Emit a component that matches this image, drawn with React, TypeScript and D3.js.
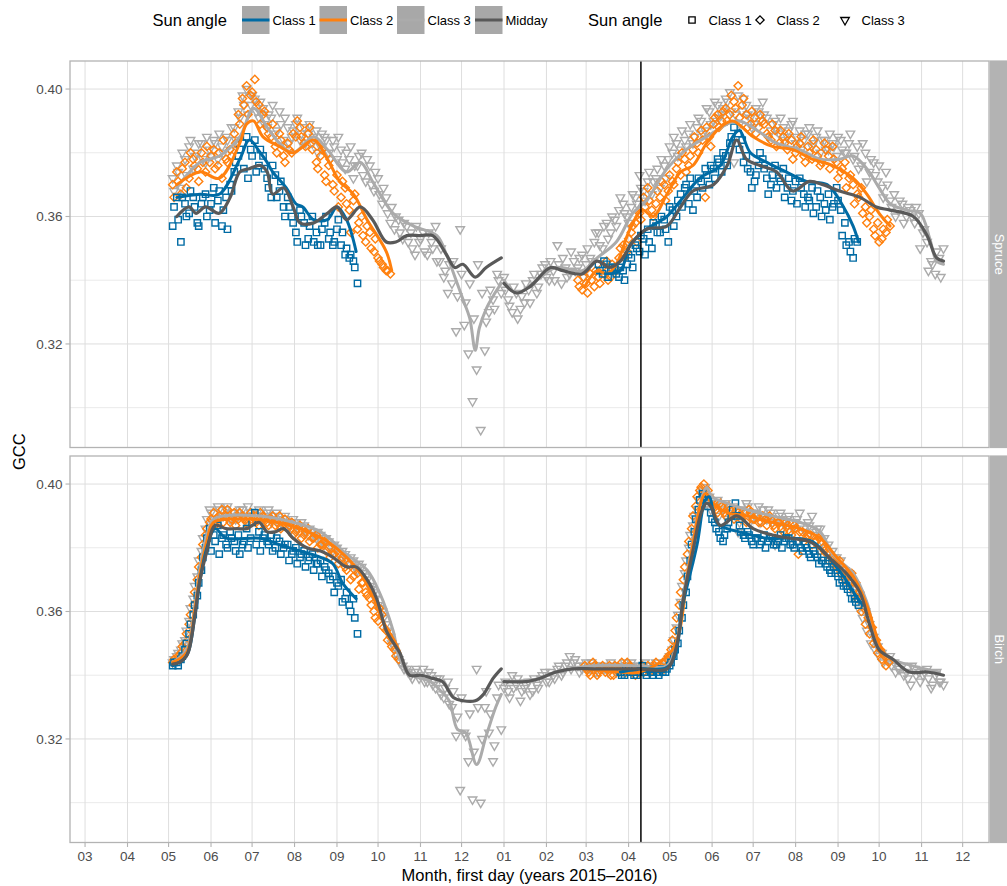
import * as d3 from 'd3';
import React, { useEffect, useRef } from 'react';

type Run = { start: string; step: number; gcc: number[] };
type Knot = [string, number];

// ---- points: GCC, one value every `step` days from `start`
// (two interleaved runs per class and year, the picture has several images a day)
const spruceClass1_2015: Run = { start: '2015-05-04', step: 3, gcc: [
  0.357, 0.366, 0.352, 0.364, 0.361, 0.366, 0.358, 0.364, 0.367, 0.362,
  0.369, 0.365, 0.357, 0.366, 0.370, 0.374, 0.379, 0.383, 0.385, 0.381,
  0.384, 0.376, 0.379, 0.372, 0.366, 0.373, 0.368, 0.363, 0.366, 0.360,
  0.355, 0.362, 0.358, 0.353, 0.360, 0.355, 0.351, 0.358, 0.353, 0.351,
  0.356, 0.351, 0.348, 0.347, 0.346, 0.339] };
const spruceClass1_2015b: Run = { start: '2015-05-05', step: 3, gcc: [
  0.363, 0.359, 0.366, 0.360, 0.368, 0.363, 0.357, 0.366, 0.360, 0.364,
  0.358, 0.368, 0.362, 0.356, 0.368, 0.377, 0.381, 0.375, 0.372, 0.379,
  0.374, 0.381, 0.375, 0.369, 0.376, 0.366, 0.371, 0.360, 0.363, 0.358,
  0.352, 0.360, 0.351, 0.357, 0.352, 0.351, 0.356, 0.360, 0.355, 0.352,
  0.359, 0.355, 0.350, 0.348, 0.344] };
const spruceClass1_2016: Run = { start: '2016-03-10', step: 3, gcc: [
  0.345, 0.342, 0.345, 0.343, 0.344, 0.341, 0.343, 0.345, 0.347, 0.351,
  0.349, 0.353, 0.356, 0.350, 0.357, 0.355, 0.359, 0.352, 0.362, 0.360,
  0.367, 0.369, 0.364, 0.362, 0.366, 0.371, 0.375, 0.370, 0.375, 0.378,
  0.374, 0.379, 0.383, 0.388, 0.386, 0.384, 0.379, 0.374, 0.371, 0.376,
  0.378, 0.372, 0.370, 0.376, 0.372, 0.375, 0.369, 0.365, 0.371, 0.372,
  0.367, 0.366, 0.369, 0.363, 0.366, 0.364, 0.367, 0.363, 0.369, 0.362,
  0.358, 0.352, 0.347, 0.352] };
const spruceClass1_2016b: Run = { start: '2016-03-11', step: 3, gcc: [
  0.343, 0.346, 0.341, 0.344, 0.342, 0.344, 0.340, 0.348, 0.344, 0.350,
  0.354, 0.348, 0.352, 0.358, 0.355, 0.360, 0.356, 0.363, 0.357, 0.365,
  0.363, 0.370, 0.372, 0.368, 0.372, 0.369, 0.373, 0.376, 0.372, 0.377,
  0.380, 0.376, 0.385, 0.383, 0.381, 0.377, 0.375, 0.369, 0.373, 0.380,
  0.375, 0.367, 0.373, 0.369, 0.371, 0.366, 0.372, 0.368, 0.364, 0.369,
  0.363, 0.365, 0.361, 0.368, 0.360, 0.362, 0.359, 0.364, 0.365, 0.354,
  0.351, 0.349, 0.353] };
const spruceClass2_2015: Run = { start: '2015-05-04', step: 3, gcc: [
  0.370, 0.374, 0.367, 0.377, 0.372, 0.378, 0.375, 0.380, 0.374, 0.377,
  0.381, 0.376, 0.372, 0.378, 0.381, 0.386, 0.392, 0.397, 0.401, 0.398,
  0.403, 0.395, 0.392, 0.388, 0.385, 0.382, 0.386, 0.379, 0.383, 0.380,
  0.385, 0.388, 0.383, 0.386, 0.381, 0.377, 0.379, 0.373, 0.376, 0.370,
  0.373, 0.366, 0.369, 0.362, 0.365, 0.356, 0.360, 0.352, 0.355, 0.349,
  0.347, 0.345, 0.343, 0.342] };
const spruceClass2_2015b: Run = { start: '2015-05-05', step: 3, gcc: [
  0.366, 0.371, 0.375, 0.369, 0.380, 0.376, 0.371, 0.377, 0.382, 0.379,
  0.375, 0.380, 0.384, 0.377, 0.379, 0.383, 0.389, 0.395, 0.392, 0.399,
  0.396, 0.389, 0.393, 0.386, 0.389, 0.380, 0.384, 0.377, 0.381, 0.386,
  0.390, 0.385, 0.382, 0.388, 0.384, 0.375, 0.381, 0.371, 0.378, 0.368,
  0.363, 0.371, 0.364, 0.355, 0.367, 0.358, 0.354, 0.357, 0.350, 0.353,
  0.346, 0.344, 0.343] };
const spruceClass2_2016: Run = { start: '2016-02-24', step: 3, gcc: [
  0.340, 0.337, 0.339, 0.342, 0.338, 0.341, 0.344, 0.346, 0.341, 0.344,
  0.347, 0.351, 0.349, 0.355, 0.358, 0.361, 0.366, 0.369, 0.362, 0.364,
  0.366, 0.370, 0.368, 0.371, 0.375, 0.373, 0.378, 0.376, 0.381, 0.383,
  0.387, 0.366, 0.385, 0.389, 0.392, 0.390, 0.394, 0.392, 0.396, 0.401,
  0.395, 0.392, 0.389, 0.391, 0.388, 0.390, 0.386, 0.384, 0.387, 0.383,
  0.385, 0.381, 0.384, 0.380, 0.383, 0.379, 0.382, 0.378, 0.381, 0.376,
  0.383, 0.379, 0.382, 0.377, 0.374, 0.377, 0.372, 0.370, 0.367, 0.369,
  0.363, 0.360, 0.356, 0.358, 0.353, 0.355, 0.357] };
const spruceClass2_2016b: Run = { start: '2016-02-25', step: 3, gcc: [
  0.338, 0.341, 0.336, 0.340, 0.343, 0.339, 0.342, 0.340, 0.345, 0.343,
  0.350, 0.347, 0.353, 0.357, 0.352, 0.359, 0.363, 0.365, 0.360, 0.368,
  0.371, 0.365, 0.373, 0.370, 0.377, 0.380, 0.374, 0.379, 0.385, 0.380,
  0.384, 0.388, 0.382, 0.391, 0.388, 0.393, 0.390, 0.398, 0.394, 0.391,
  0.397, 0.388, 0.393, 0.386, 0.392, 0.389, 0.385, 0.389, 0.382, 0.387,
  0.383, 0.386, 0.378, 0.382, 0.385, 0.377, 0.380, 0.384, 0.379, 0.377,
  0.381, 0.375, 0.378, 0.372, 0.375, 0.369, 0.373, 0.364, 0.366, 0.361,
  0.358, 0.362, 0.354, 0.352, 0.356, 0.359] };
const spruceClass3_2015: Run = { start: '2015-05-04', step: 3, gcc: [
  0.372, 0.376, 0.369, 0.378, 0.382, 0.375, 0.380, 0.383, 0.377, 0.381,
  0.384, 0.378, 0.382, 0.385, 0.381, 0.388, 0.393, 0.398, 0.400, 0.395,
  0.397, 0.391, 0.394, 0.388, 0.391, 0.386, 0.393, 0.384, 0.388, 0.385,
  0.389, 0.384, 0.388, 0.386, 0.383, 0.387, 0.382, 0.385, 0.380, 0.384,
  0.378, 0.381, 0.375, 0.378, 0.372, 0.376, 0.380, 0.371, 0.376, 0.368,
  0.372, 0.364, 0.366, 0.358, 0.356, 0.359, 0.353, 0.357, 0.355, 0.348,
  0.352, 0.355, 0.348, 0.352, 0.357, 0.346, 0.341, 0.336, 0.339, 0.324,
  0.356, 0.326, 0.317, 0.302, 0.312, 0.293, 0.318, 0.330, 0.334, 0.342,
  0.336] };
const spruceClass3_2015b: Run = { start: '2015-05-05', step: 3, gcc: [
  0.368, 0.374, 0.380, 0.373, 0.384, 0.379, 0.383, 0.378, 0.385, 0.379,
  0.383, 0.386, 0.380, 0.384, 0.388, 0.384, 0.391, 0.395, 0.392, 0.398,
  0.393, 0.396, 0.389, 0.392, 0.395, 0.387, 0.389, 0.391, 0.383, 0.387,
  0.391, 0.386, 0.383, 0.389, 0.385, 0.380, 0.386, 0.384, 0.378, 0.382,
  0.385, 0.377, 0.380, 0.382, 0.376, 0.379, 0.373, 0.378, 0.370, 0.374,
  0.367, 0.369, 0.361, 0.363, 0.360, 0.355, 0.358, 0.352, 0.350, 0.357,
  0.353, 0.349, 0.355, 0.350, 0.346, 0.350, 0.343, 0.345, 0.346, 0.335,
  0.342, 0.333, 0.339, 0.328, 0.345, 0.336, 0.327, 0.337, 0.331, 0.340] };
const spruceClass3_2016: Run = { start: '2016-01-01', step: 3, gcc: [
  0.341, 0.334, 0.330, 0.336, 0.331, 0.333, 0.337, 0.340, 0.336, 0.342,
  0.345, 0.340, 0.343, 0.351, 0.339, 0.344, 0.342, 0.346, 0.344, 0.348,
  0.345, 0.347, 0.352, 0.355, 0.350, 0.358, 0.355, 0.359, 0.362, 0.364,
  0.360, 0.363, 0.366, 0.373, 0.368, 0.371, 0.367, 0.372, 0.369, 0.376,
  0.378, 0.380, 0.383, 0.381, 0.384, 0.386, 0.383, 0.388, 0.390, 0.387,
  0.393, 0.390, 0.395, 0.392, 0.397, 0.399, 0.377, 0.398, 0.393, 0.395,
  0.391, 0.389, 0.393, 0.396, 0.391, 0.387, 0.390, 0.386, 0.388, 0.385,
  0.389, 0.383, 0.387, 0.384, 0.386, 0.382, 0.385, 0.380, 0.384, 0.381,
  0.383, 0.379, 0.384, 0.380, 0.383, 0.378, 0.382, 0.376, 0.380, 0.374,
  0.377, 0.371, 0.369, 0.374, 0.365, 0.367, 0.362, 0.364, 0.360, 0.362,
  0.358, 0.361, 0.355, 0.352, 0.346, 0.342, 0.347, 0.350] };
const spruceClass3_2016b: Run = { start: '2016-01-02', step: 3, gcc: [
  0.337, 0.332, 0.338, 0.328, 0.335, 0.339, 0.333, 0.342, 0.338, 0.344,
  0.341, 0.346, 0.340, 0.345, 0.347, 0.341, 0.349, 0.343, 0.347, 0.341,
  0.350, 0.346, 0.355, 0.351, 0.357, 0.353, 0.360, 0.357, 0.366, 0.361,
  0.358, 0.367, 0.364, 0.369, 0.365, 0.374, 0.371, 0.375, 0.378, 0.372,
  0.382, 0.385, 0.379, 0.387, 0.382, 0.389, 0.385, 0.391, 0.386, 0.394,
  0.389, 0.396, 0.391, 0.394, 0.396, 0.393, 0.392, 0.389, 0.397, 0.392,
  0.388, 0.394, 0.390, 0.392, 0.385, 0.389, 0.387, 0.391, 0.384, 0.387,
  0.390, 0.385, 0.381, 0.386, 0.388, 0.383, 0.387, 0.384, 0.381, 0.386,
  0.382, 0.385, 0.381, 0.380, 0.386, 0.379, 0.375, 0.383, 0.371, 0.378,
  0.373, 0.376, 0.366, 0.370, 0.363, 0.360, 0.365, 0.358, 0.363, 0.360,
  0.363, 0.350, 0.356, 0.343, 0.345, 0.349, 0.341] };

const birchClass1_2015: Run = { start: '2015-05-04', step: 3, gcc: [
  0.343, 0.344, 0.345, 0.348, 0.353, 0.359, 0.365, 0.373, 0.380, 0.386,
  0.384, 0.387, 0.383, 0.381, 0.385, 0.382, 0.384, 0.381, 0.386, 0.383,
  0.391, 0.385, 0.383, 0.382, 0.384, 0.380, 0.382, 0.380, 0.381, 0.378,
  0.380, 0.377, 0.379, 0.376, 0.378, 0.375, 0.376, 0.374, 0.372, 0.371,
  0.369, 0.370, 0.364, 0.362, 0.364, 0.353] };
const birchClass1_2015b: Run = { start: '2015-05-05', step: 3, gcc: [
  0.344, 0.343, 0.346, 0.350, 0.356, 0.362, 0.369, 0.377, 0.383, 0.379,
  0.382, 0.378, 0.384, 0.380, 0.383, 0.379, 0.378, 0.382, 0.380, 0.388,
  0.381, 0.379, 0.384, 0.381, 0.379, 0.383, 0.378, 0.381, 0.376, 0.379,
  0.375, 0.378, 0.374, 0.377, 0.373, 0.375, 0.371, 0.373, 0.370, 0.366,
  0.368, 0.363, 0.366, 0.360, 0.358] };
const birchClass1_2016: Run = { start: '2016-03-26', step: 3, gcc: [
  0.341, 0.340, 0.342, 0.341, 0.340, 0.342, 0.341, 0.342, 0.340, 0.341,
  0.342, 0.341, 0.343, 0.346, 0.350, 0.358, 0.366, 0.376, 0.385, 0.392,
  0.397, 0.395, 0.391, 0.388, 0.385, 0.382, 0.386, 0.390, 0.394, 0.387,
  0.384, 0.385, 0.382, 0.383, 0.381, 0.384, 0.382, 0.383, 0.381, 0.384,
  0.382, 0.383, 0.381, 0.382, 0.380, 0.381, 0.378, 0.379, 0.377, 0.376,
  0.375, 0.373, 0.374, 0.371, 0.370, 0.368, 0.366, 0.364, 0.362] };
const birchClass1_2016b: Run = { start: '2016-03-27', step: 3, gcc: [
  0.340, 0.342, 0.341, 0.340, 0.341, 0.343, 0.340, 0.341, 0.342, 0.340,
  0.341, 0.342, 0.344, 0.348, 0.354, 0.362, 0.371, 0.381, 0.389, 0.395,
  0.396, 0.393, 0.389, 0.386, 0.383, 0.384, 0.388, 0.392, 0.390, 0.385,
  0.383, 0.384, 0.381, 0.383, 0.382, 0.380, 0.383, 0.381, 0.382, 0.380,
  0.383, 0.381, 0.380, 0.382, 0.379, 0.380, 0.377, 0.378, 0.375, 0.376,
  0.374, 0.372, 0.372, 0.369, 0.368, 0.367, 0.364, 0.363] };
const birchClass2_2015: Run = { start: '2015-05-04', step: 3, gcc: [
  0.344, 0.345, 0.347, 0.350, 0.356, 0.362, 0.370, 0.377, 0.384, 0.388,
  0.391, 0.389, 0.392, 0.390, 0.388, 0.391, 0.389, 0.390, 0.388, 0.391,
  0.389, 0.387, 0.390, 0.388, 0.389, 0.387, 0.390, 0.388, 0.386, 0.388,
  0.385, 0.387, 0.384, 0.386, 0.383, 0.384, 0.381, 0.382, 0.380, 0.378,
  0.379, 0.376, 0.374, 0.375, 0.371, 0.372, 0.369, 0.366, 0.364, 0.360,
  0.357, 0.359, 0.354, 0.352, 0.348, 0.345] };
const birchClass2_2015b: Run = { start: '2015-05-05', step: 3, gcc: [
  0.345, 0.346, 0.349, 0.353, 0.359, 0.366, 0.374, 0.381, 0.386, 0.389,
  0.387, 0.390, 0.388, 0.392, 0.389, 0.387, 0.391, 0.389, 0.387, 0.390,
  0.388, 0.391, 0.389, 0.387, 0.390, 0.388, 0.386, 0.389, 0.387, 0.384,
  0.386, 0.383, 0.385, 0.382, 0.383, 0.380, 0.381, 0.379, 0.377, 0.378,
  0.375, 0.377, 0.373, 0.370, 0.373, 0.367, 0.369, 0.365, 0.362, 0.358,
  0.361, 0.355, 0.351, 0.349, 0.346] };
const birchClass2_2016: Run = { start: '2016-02-29', step: 3, gcc: [
  0.343, 0.341, 0.344, 0.340, 0.342, 0.341, 0.343, 0.340, 0.342, 0.344,
  0.341, 0.343, 0.342, 0.341, 0.343, 0.342, 0.341, 0.343, 0.342, 0.344,
  0.345, 0.348, 0.354, 0.362, 0.370, 0.378, 0.386, 0.393, 0.398, 0.400,
  0.398, 0.395, 0.392, 0.394, 0.391, 0.393, 0.390, 0.392, 0.389, 0.391,
  0.392, 0.389, 0.390, 0.388, 0.389, 0.390, 0.387, 0.388, 0.386, 0.388,
  0.385, 0.387, 0.378, 0.385, 0.383, 0.384, 0.382, 0.383, 0.380, 0.378,
  0.377, 0.375, 0.376, 0.373, 0.371, 0.372, 0.369, 0.366, 0.361, 0.358,
  0.355, 0.351, 0.348, 0.346, 0.344] };
const birchClass2_2016b: Run = { start: '2016-03-01', step: 3, gcc: [
  0.342, 0.340, 0.343, 0.341, 0.343, 0.342, 0.340, 0.343, 0.341, 0.342,
  0.344, 0.342, 0.340, 0.342, 0.341, 0.343, 0.342, 0.344, 0.343, 0.342,
  0.346, 0.351, 0.358, 0.366, 0.374, 0.382, 0.390, 0.396, 0.399, 0.397,
  0.396, 0.393, 0.391, 0.393, 0.390, 0.392, 0.389, 0.391, 0.390, 0.388,
  0.391, 0.389, 0.388, 0.390, 0.387, 0.389, 0.386, 0.388, 0.385, 0.387,
  0.384, 0.386, 0.385, 0.382, 0.384, 0.381, 0.382, 0.379, 0.379, 0.376,
  0.376, 0.374, 0.372, 0.370, 0.369, 0.367, 0.364, 0.360, 0.356, 0.353,
  0.350, 0.347, 0.345, 0.343] };
const birchClass3_2015: Run = { start: '2015-05-04', step: 3, gcc: [
  0.344, 0.346, 0.348, 0.351, 0.357, 0.364, 0.371, 0.379, 0.386, 0.392,
  0.389, 0.393, 0.390, 0.392, 0.389, 0.391, 0.390, 0.392, 0.389, 0.391,
  0.390, 0.392, 0.389, 0.391, 0.388, 0.390, 0.387, 0.389, 0.388, 0.386,
  0.388, 0.385, 0.387, 0.384, 0.385, 0.383, 0.384, 0.381, 0.382, 0.379,
  0.380, 0.377, 0.378, 0.375, 0.376, 0.373, 0.374, 0.371, 0.368, 0.366,
  0.362, 0.360, 0.356, 0.352, 0.349, 0.345, 0.343, 0.342, 0.340, 0.341,
  0.339, 0.342, 0.338, 0.340, 0.336, 0.339, 0.333, 0.338, 0.330, 0.321,
  0.304, 0.322, 0.313, 0.301, 0.342, 0.300, 0.330, 0.322, 0.313, 0.333,
  0.323] };
const birchClass3_2015b: Run = { start: '2015-05-05', step: 3, gcc: [
  0.345, 0.347, 0.350, 0.354, 0.361, 0.368, 0.376, 0.383, 0.389, 0.391,
  0.388, 0.392, 0.390, 0.393, 0.391, 0.389, 0.392, 0.390, 0.393, 0.391,
  0.389, 0.391, 0.390, 0.392, 0.389, 0.391, 0.388, 0.390, 0.387, 0.389,
  0.386, 0.388, 0.385, 0.386, 0.384, 0.385, 0.382, 0.383, 0.380, 0.381,
  0.378, 0.379, 0.376, 0.377, 0.374, 0.375, 0.372, 0.370, 0.367, 0.364,
  0.361, 0.358, 0.354, 0.350, 0.347, 0.344, 0.342, 0.341, 0.339, 0.342,
  0.340, 0.338, 0.341, 0.337, 0.339, 0.334, 0.336, 0.331, 0.335, 0.327,
  0.333, 0.321, 0.328, 0.316, 0.330, 0.320, 0.335, 0.328, 0.318, 0.337] };
const birchClass3_2016: Run = { start: '2016-01-01', step: 3, gcc: [
  0.336, 0.335, 0.340, 0.337, 0.332, 0.336, 0.338, 0.335, 0.337, 0.339,
  0.341, 0.338, 0.340, 0.342, 0.340, 0.343, 0.346, 0.344, 0.343, 0.342,
  0.344, 0.342, 0.343, 0.341, 0.343, 0.342, 0.344, 0.342, 0.343, 0.341,
  0.342, 0.344, 0.342, 0.343, 0.341, 0.343, 0.342, 0.344, 0.342, 0.343,
  0.345, 0.348, 0.355, 0.363, 0.372, 0.380, 0.387, 0.392, 0.397, 0.399,
  0.396, 0.393, 0.395, 0.392, 0.394, 0.391, 0.393, 0.385, 0.392, 0.394,
  0.391, 0.390, 0.393, 0.392, 0.389, 0.391, 0.381, 0.390, 0.388, 0.389,
  0.381, 0.388, 0.391, 0.386, 0.388, 0.390, 0.385, 0.386, 0.383, 0.381,
  0.379, 0.377, 0.376, 0.373, 0.372, 0.369, 0.366, 0.363, 0.360, 0.356,
  0.352, 0.349, 0.347, 0.345, 0.346, 0.344, 0.342, 0.343, 0.341, 0.337,
  0.342, 0.341, 0.340, 0.342, 0.336, 0.340, 0.338, 0.337] };
const birchClass3_2016b: Run = { start: '2016-01-02', step: 3, gcc: [
  0.338, 0.333, 0.336, 0.339, 0.335, 0.337, 0.334, 0.339, 0.336, 0.340,
  0.338, 0.341, 0.339, 0.343, 0.341, 0.344, 0.342, 0.345, 0.341, 0.343,
  0.342, 0.344, 0.341, 0.343, 0.342, 0.341, 0.343, 0.341, 0.342, 0.344,
  0.343, 0.341, 0.343, 0.342, 0.344, 0.341, 0.343, 0.342, 0.341, 0.344,
  0.346, 0.351, 0.359, 0.368, 0.376, 0.384, 0.390, 0.395, 0.398, 0.394,
  0.392, 0.394, 0.390, 0.393, 0.389, 0.392, 0.390, 0.388, 0.391, 0.393,
  0.389, 0.391, 0.388, 0.390, 0.392, 0.388, 0.389, 0.391, 0.387, 0.390,
  0.386, 0.389, 0.387, 0.385, 0.387, 0.384, 0.386, 0.382, 0.380, 0.378,
  0.377, 0.374, 0.373, 0.370, 0.368, 0.365, 0.361, 0.358, 0.354, 0.350,
  0.348, 0.346, 0.344, 0.345, 0.343, 0.341, 0.342, 0.340, 0.339, 0.343,
  0.340, 0.338, 0.341, 0.339, 0.337, 0.341, 0.338] };

// ---- smoothed lines, knots
const spruceLine1_2015: Knot[] = [['2015-05-07', 0.366], ['2015-05-24', 0.367], ['2015-06-07', 0.367], ['2015-06-22', 0.378], ['2015-06-29', 0.384], ['2015-07-07', 0.380], ['2015-07-12', 0.377], ['2015-07-16', 0.374], ['2015-07-26', 0.369], ['2015-08-02', 0.364], ['2015-08-07', 0.363], ['2015-08-15', 0.359], ['2015-08-25', 0.359], ['2015-09-01', 0.363], ['2015-09-08', 0.359], ['2015-09-15', 0.349]];
const spruceLine1_2016: Knot[] = [['2016-03-15', 0.342], ['2016-03-26', 0.343], ['2016-04-02', 0.351], ['2016-04-14', 0.356], ['2016-04-29', 0.360], ['2016-05-09', 0.365], ['2016-05-23', 0.372], ['2016-06-07', 0.376], ['2016-06-16', 0.385], ['2016-06-21', 0.387], ['2016-06-29', 0.380], ['2016-07-11', 0.377], ['2016-07-25', 0.374], ['2016-08-09', 0.371], ['2016-08-24', 0.370], ['2016-09-05', 0.363], ['2016-09-12', 0.357], ['2016-09-16', 0.352]];
const spruceLine2_2015: Knot[] = [['2015-05-07', 0.370], ['2015-05-24', 0.374], ['2015-06-07', 0.372], ['2015-06-22', 0.383], ['2015-06-27', 0.389], ['2015-07-02', 0.390], ['2015-07-09', 0.385], ['2015-07-21', 0.382], ['2015-07-31', 0.380], ['2015-08-15', 0.384], ['2015-08-25', 0.378], ['2015-09-03', 0.371], ['2015-09-13', 0.367], ['2015-09-23', 0.359], ['2015-10-07', 0.349], ['2015-10-11', 0.343]];
const spruceLine2_2016: Knot[] = [['2016-02-29', 0.338], ['2016-03-09', 0.343], ['2016-03-16', 0.342], ['2016-03-23', 0.345], ['2016-04-02', 0.356], ['2016-04-11', 0.362], ['2016-04-19', 0.360], ['2016-04-29', 0.367], ['2016-05-09', 0.374], ['2016-05-18', 0.376], ['2016-05-28', 0.383], ['2016-06-07', 0.388], ['2016-06-16', 0.390], ['2016-07-01', 0.385], ['2016-07-15', 0.382], ['2016-07-30', 0.381], ['2016-08-13', 0.378], ['2016-08-28', 0.376], ['2016-09-12', 0.372], ['2016-09-22', 0.367], ['2016-10-01', 0.361], ['2016-10-09', 0.357]];
const spruceLine3_2015: Knot[] = [['2015-05-07', 0.369], ['2015-05-24', 0.377], ['2015-06-07', 0.379], ['2015-06-22', 0.385], ['2015-07-02', 0.394], ['2015-07-12', 0.388], ['2015-07-21', 0.383], ['2015-07-31', 0.380], ['2015-08-15', 0.385], ['2015-08-25', 0.381], ['2015-09-08', 0.374], ['2015-09-18', 0.377], ['2015-09-27', 0.371], ['2015-10-12', 0.361], ['2015-10-27', 0.357], ['2015-11-13', 0.354], ['2015-11-20', 0.348], ['2015-11-27', 0.340], ['2015-12-02', 0.334], ['2015-12-07', 0.328], ['2015-12-11', 0.318], ['2015-12-14', 0.325], ['2015-12-19', 0.331], ['2015-12-24', 0.335], ['2015-12-30', 0.339]];
const spruceLine3_2016: Knot[] = [['2016-01-01', 0.340], ['2016-01-10', 0.336], ['2016-01-25', 0.340], ['2016-02-08', 0.344], ['2016-02-27', 0.343], ['2016-03-09', 0.347], ['2016-03-23', 0.352], ['2016-04-04', 0.361], ['2016-04-14', 0.365], ['2016-04-29', 0.375], ['2016-05-13', 0.381], ['2016-05-28', 0.385], ['2016-06-12', 0.389], ['2016-06-21', 0.390], ['2016-07-04', 0.387], ['2016-07-18', 0.383], ['2016-08-04', 0.381], ['2016-08-19', 0.378], ['2016-09-02', 0.378], ['2016-09-12', 0.379], ['2016-09-22', 0.375], ['2016-10-01', 0.369], ['2016-10-09', 0.364], ['2016-10-21', 0.362], ['2016-10-31', 0.361], ['2016-11-07', 0.353], ['2016-11-12', 0.346], ['2016-11-17', 0.345]];
const spruceMidday2015: Knot[] = [['2015-05-07', 0.360], ['2015-05-16', 0.363], ['2015-05-21', 0.361], ['2015-05-28', 0.363], ['2015-06-07', 0.361], ['2015-06-15', 0.366], ['2015-06-22', 0.374], ['2015-06-29', 0.375], ['2015-07-07', 0.376], ['2015-07-12', 0.374], ['2015-07-16', 0.367], ['2015-07-24', 0.369], ['2015-07-31', 0.363], ['2015-08-05', 0.358], ['2015-08-15', 0.358], ['2015-08-25', 0.361], ['2015-09-01', 0.363], ['2015-09-08', 0.359], ['2015-09-18', 0.363], ['2015-09-27', 0.359], ['2015-10-07', 0.352], ['2015-10-14', 0.352], ['2015-10-22', 0.354], ['2015-11-01', 0.354], ['2015-11-10', 0.354], ['2015-11-20', 0.348], ['2015-11-26', 0.344], ['2015-12-02', 0.345], ['2015-12-11', 0.341], ['2015-12-19', 0.344], ['2015-12-30', 0.347]];
const spruceMidday2016: Knot[] = [['2016-01-01', 0.339], ['2016-01-10', 0.336], ['2016-01-20', 0.338], ['2016-02-04', 0.344], ['2016-02-13', 0.343], ['2016-02-27', 0.342], ['2016-03-09', 0.346], ['2016-03-18', 0.344], ['2016-03-26', 0.346], ['2016-04-04', 0.352], ['2016-04-14', 0.356], ['2016-04-29', 0.357], ['2016-05-09', 0.363], ['2016-05-18', 0.368], ['2016-06-02', 0.370], ['2016-06-12', 0.376], ['2016-06-19', 0.384], ['2016-06-26', 0.378], ['2016-07-06', 0.376], ['2016-07-18', 0.374], ['2016-07-30', 0.368], ['2016-08-11', 0.371], ['2016-08-21', 0.370], ['2016-09-02', 0.368], ['2016-09-17', 0.366], ['2016-09-29', 0.363], ['2016-10-09', 0.362], ['2016-10-26', 0.360], ['2016-11-05', 0.354], ['2016-11-12', 0.347], ['2016-11-17', 0.346]];

const birchLine1_2015: Knot[] = [['2015-05-04', 0.343], ['2015-05-14', 0.346], ['2015-05-20', 0.358], ['2015-05-24', 0.370], ['2015-05-29', 0.380], ['2015-06-04', 0.386], ['2015-06-12', 0.383], ['2015-07-07', 0.383], ['2015-07-21', 0.381], ['2015-08-05', 0.379], ['2015-08-20', 0.377], ['2015-08-29', 0.375], ['2015-09-05', 0.369], ['2015-09-15', 0.364]];
const birchLine1_2016: Knot[] = [['2016-03-26', 0.341], ['2016-04-09', 0.342], ['2016-05-01', 0.343], ['2016-05-11', 0.363], ['2016-05-21', 0.381], ['2016-05-27', 0.395], ['2016-05-30', 0.396], ['2016-06-04', 0.388], ['2016-06-12', 0.386], ['2016-06-21', 0.385], ['2016-07-11', 0.383], ['2016-07-30', 0.383], ['2016-08-13', 0.382], ['2016-08-23', 0.378], ['2016-09-05', 0.371], ['2016-09-14', 0.365], ['2016-09-19', 0.362]];
const birchLine2_2015: Knot[] = [['2015-05-04', 0.344], ['2015-05-14', 0.347], ['2015-05-20', 0.360], ['2015-05-24', 0.372], ['2015-05-29', 0.382], ['2015-06-03', 0.388], ['2015-06-24', 0.389], ['2015-07-19', 0.388], ['2015-08-05', 0.386], ['2015-08-25', 0.382], ['2015-09-08', 0.377], ['2015-09-18', 0.372], ['2015-09-27', 0.365], ['2015-10-07', 0.355], ['2015-10-14', 0.350], ['2015-10-17', 0.347]];
const birchLine2_2016: Knot[] = [['2016-02-29', 0.342], ['2016-03-26', 0.341], ['2016-04-09', 0.341], ['2016-05-03', 0.348], ['2016-05-15', 0.374], ['2016-05-27', 0.397], ['2016-06-01', 0.394], ['2016-06-12', 0.391], ['2016-06-26', 0.390], ['2016-07-15', 0.388], ['2016-08-04', 0.386], ['2016-08-19', 0.383], ['2016-08-31', 0.377], ['2016-09-12', 0.371], ['2016-09-22', 0.362], ['2016-10-01', 0.350], ['2016-10-06', 0.346]];
const birchLine3_2015: Knot[] = [['2015-05-04', 0.344], ['2015-05-14', 0.348], ['2015-05-20', 0.361], ['2015-05-24', 0.374], ['2015-05-29', 0.384], ['2015-06-03', 0.389], ['2015-07-07', 0.390], ['2015-07-31', 0.388], ['2015-08-20', 0.385], ['2015-09-08', 0.378], ['2015-09-23', 0.373], ['2015-10-02', 0.366], ['2015-10-12', 0.354], ['2015-10-17', 0.345], ['2015-10-27', 0.340], ['2015-11-08', 0.338], ['2015-11-16', 0.335], ['2015-11-22', 0.332], ['2015-11-28', 0.323], ['2015-12-04', 0.322], ['2015-12-12', 0.312], ['2015-12-19', 0.321], ['2015-12-26', 0.330], ['2015-12-30', 0.334]];
const birchLine3_2016: Knot[] = [['2016-01-01', 0.338], ['2016-01-27', 0.339], ['2016-02-08', 0.341], ['2016-03-06', 0.343], ['2016-04-09', 0.343], ['2016-04-29', 0.343], ['2016-05-06', 0.350], ['2016-05-11', 0.365], ['2016-05-18', 0.382], ['2016-05-24', 0.395], ['2016-05-28', 0.399], ['2016-06-01', 0.396], ['2016-06-12', 0.394], ['2016-06-26', 0.392], ['2016-07-15', 0.390], ['2016-08-04', 0.388], ['2016-08-19', 0.385], ['2016-08-28', 0.378], ['2016-09-12', 0.372], ['2016-09-22', 0.363], ['2016-10-01', 0.349], ['2016-10-11', 0.345], ['2016-10-25', 0.343], ['2016-11-14', 0.341]];
const birchMidday2015: Knot[] = [['2015-05-04', 0.3435], ['2015-05-09', 0.344], ['2015-05-14', 0.346], ['2015-05-16', 0.348], ['2015-05-20', 0.358], ['2015-05-24', 0.370], ['2015-05-29', 0.379], ['2015-06-04', 0.387], ['2015-06-12', 0.386], ['2015-06-20', 0.386], ['2015-06-27', 0.386], ['2015-07-06', 0.388], ['2015-07-12', 0.385], ['2015-07-18', 0.385], ['2015-07-24', 0.386], ['2015-07-31', 0.383], ['2015-08-10', 0.380], ['2015-08-20', 0.379], ['2015-08-29', 0.377], ['2015-09-08', 0.374], ['2015-09-15', 0.374], ['2015-09-23', 0.370], ['2015-09-30', 0.364], ['2015-10-07', 0.354], ['2015-10-14', 0.349], ['2015-10-17', 0.347], ['2015-10-24', 0.340], ['2015-11-01', 0.340], ['2015-11-10', 0.339], ['2015-11-17', 0.338], ['2015-11-25', 0.333], ['2015-12-02', 0.332], ['2015-12-11', 0.332], ['2015-12-17', 0.334], ['2015-12-24', 0.339], ['2015-12-30', 0.342]];
const birchMidday2016: Knot[] = [['2016-01-01', 0.338], ['2016-01-17', 0.338], ['2016-01-27', 0.339], ['2016-02-08', 0.341], ['2016-02-20', 0.342], ['2016-03-06', 0.342], ['2016-03-20', 0.342], ['2016-03-30', 0.342], ['2016-04-09', 0.342], ['2016-04-29', 0.342], ['2016-05-06', 0.349], ['2016-05-11', 0.364], ['2016-05-18', 0.379], ['2016-05-24', 0.391], ['2016-05-28', 0.394], ['2016-05-31', 0.393], ['2016-06-07', 0.387], ['2016-06-19', 0.390], ['2016-07-01', 0.386], ['2016-07-15', 0.384], ['2016-07-28', 0.383], ['2016-08-11', 0.382], ['2016-08-18', 0.380], ['2016-08-28', 0.376], ['2016-09-07', 0.372], ['2016-09-17', 0.366], ['2016-09-24', 0.356], ['2016-10-01', 0.348], ['2016-10-11', 0.345], ['2016-10-23', 0.341], ['2016-11-05', 0.341], ['2016-11-17', 0.340]];

// ---- axes, labels, legend
const yMajor = [0.32, 0.36, 0.4];
const yMinor = [0.3, 0.34, 0.38];
const yDomain = [0.2875, 0.4088];
const cutDate = '2016-04-10';
const classNames = ['Class 1', 'Class 2', 'Class 3'];
const lineNames = ['Class 1', 'Class 2', 'Class 3', 'Midday'];
const colors = ['#006BA4', '#FF800E', '#ABABAB', '#595959'];
const facets = ['Spruce', 'Birch'];

const panels = [
  {
    points: [
      [spruceClass1_2015, spruceClass1_2015b, spruceClass1_2016, spruceClass1_2016b],
      [spruceClass2_2015, spruceClass2_2015b, spruceClass2_2016, spruceClass2_2016b],
      [spruceClass3_2015, spruceClass3_2015b, spruceClass3_2016, spruceClass3_2016b],
    ],
    lines: [[spruceLine1_2015, spruceLine1_2016], [spruceLine2_2015, spruceLine2_2016], [spruceLine3_2015, spruceLine3_2016], [spruceMidday2015, spruceMidday2016]],
  },
  {
    points: [
      [birchClass1_2015, birchClass1_2015b, birchClass1_2016, birchClass1_2016b],
      [birchClass2_2015, birchClass2_2015b, birchClass2_2016, birchClass2_2016b],
      [birchClass3_2015, birchClass3_2015b, birchClass3_2016, birchClass3_2016b],
    ],
    lines: [[birchLine1_2015, birchLine1_2016], [birchLine2_2015, birchLine2_2016], [birchLine3_2015, birchLine3_2016], [birchMidday2015, birchMidday2016]],
  },
];

export default function App() {
  const ref = useRef<SVGSVGElement>(null);

  useEffect(() => {
    const svg = d3.select(ref.current);
    svg.selectAll('*').remove();
    const font = 'Liberation Sans, Arial, Helvetica, sans-serif';
    const parse = d3.timeParse('%Y-%m-%d');
    const left = 70, right = 989, panelH = 386.5;
    const tops = [61, 456];

    var x = d3.scaleTime().domain([new Date(2015, 1, 18), new Date(2016, 11, 20, 6)]).range([left, right]);
    var months = d3.timeMonth.range(new Date(2015, 2, 1), new Date(2016, 11, 2));

    const symbols = [
      d3.symbol(d3.symbolSquare, 40),
      d3.symbol(d3.symbolSquare, 34),
      d3.symbol(d3.symbolTriangle, 32),
    ];
    const rotation = [0, 45, 180];

    const line = d3
      .line<Knot>()
      .x((d) => x(parse(d[0])!))
      .curve(d3.curveCatmullRom.alpha(0.5));

    panels.forEach(function (p, k) {
      const top = tops[k];
      const bottom = top + panelH;
      var y = d3.scaleLinear().domain(yDomain).range([bottom, top]);
      var g = svg.append('g');

      g.append('rect').attr('x', left).attr('y', top).attr('width', right - left).attr('height', panelH).attr('fill', '#fff');
      g.selectAll('minor')
        .data(yMinor)
        .enter()
        .append('line')
        .attr('x1', left).attr('x2', right)
        .attr('y1', (d) => y(d)).attr('y2', (d) => y(d))
        .attr('stroke', '#E4E4E4').attr('stroke-width', 0.8);
      g.selectAll('major')
        .data(yMajor)
        .enter()
        .append('line')
        .attr('x1', left).attr('x2', right)
        .attr('y1', (d) => y(d)).attr('y2', (d) => y(d))
        .attr('stroke', '#DEDEDE').attr('stroke-width', 1);
      g.selectAll('vgrid')
        .data(months)
        .enter()
        .append('line')
        .attr('x1', (d) => x(d)).attr('x2', (d) => x(d))
        .attr('y1', top).attr('y2', bottom)
        .attr('stroke', '#DEDEDE').attr('stroke-width', 1);

      // points, class 3 at the back
      [2, 1, 0].forEach(function (c) {
        p.points[c].forEach(function (run) {
          const t0 = parse(run.start)!;
          const data = run.gcc.map((v, i) => ({ date: d3.timeDay.offset(t0, i * run.step), v: v }));
          g.selectAll('pts')
            .data(data)
            .enter()
            .append('path')
            .attr('d', symbols[c]() as string)
            .attr('transform', (d) => 'translate(' + x(d.date) + ',' + y(d.v) + ') rotate(' + rotation[c] + ')')
            .attr('fill', 'none')
            .attr('stroke', colors[c])
            .attr('stroke-width', 1.4);
        });
      });

      // smoothed lines, midday on top
      line.y((d) => y(d[1]));
      [2, 1, 0, 3].forEach(function (c) {
        p.lines[c].forEach(function (l) {
          g.append('path')
            .attr('d', line(l))
            .attr('fill', 'none')
            .attr('stroke', colors[c])
            .attr('stroke-width', c === 3 ? 3.2 : 3)
            .attr('stroke-linecap', 'round');
        });
      });

      g.append('line')
        .attr('x1', x(parse(cutDate)!)).attr('x2', x(parse(cutDate)!))
        .attr('y1', top).attr('y2', bottom)
        .attr('stroke', '#000').attr('stroke-width', 1.5);

      g.append('rect')
        .attr('x', left).attr('y', top).attr('width', right - left).attr('height', panelH)
        .attr('fill', 'none').attr('stroke', '#B3B3B3').attr('stroke-width', 1.3);

      // strip
      g.append('rect').attr('x', right + 0.6).attr('y', top - 0.6).attr('width', 30).attr('height', panelH + 1.2).attr('fill', '#B3B3B3');
      g.append('text')
        .attr('transform', 'translate(' + (right + 10) + ',' + (top + panelH / 2) + ') rotate(90)')
        .attr('text-anchor', 'middle')
        .attr('dominant-baseline', 'central')
        .attr('fill', '#fff')
        .style('font', '13px ' + font)
        .text(facets[k]);

      // y axis
      g.selectAll('yt')
        .data(yMajor)
        .enter()
        .append('line')
        .attr('x1', left - 4.5).attr('x2', left)
        .attr('y1', (d) => y(d)).attr('y2', (d) => y(d))
        .attr('stroke', '#B3B3B3').attr('stroke-width', 1.1);
      g.selectAll('yl')
        .data(yMajor)
        .enter()
        .append('text')
        .attr('x', left - 7.5)
        .attr('y', (d) => y(d) + 4.8)
        .attr('text-anchor', 'end')
        .attr('fill', '#4D4D4D')
        .style('font', '13.5px ' + font)
        .text((d) => d3.format('.2f')(d));
    });

    // x axis under the lower panel
    const axisY = tops[1] + panelH;
    svg.selectAll('xt')
      .data(months)
      .enter()
      .append('line')
      .attr('x1', (d) => x(d)).attr('x2', (d) => x(d))
      .attr('y1', axisY).attr('y2', axisY + 4.5)
      .attr('stroke', '#B3B3B3').attr('stroke-width', 1.1);
    svg.selectAll('xl')
      .data(months)
      .enter()
      .append('text')
      .attr('x', (d) => x(d))
      .attr('y', axisY + 18.5)
      .attr('text-anchor', 'middle')
      .attr('fill', '#4D4D4D')
      .style('font', '13.5px ' + font)
      .text((d) => d3.timeFormat('%m')(d));

    svg.append('text')
      .attr('x', (left + right) / 2)
      .attr('y', 881)
      .attr('text-anchor', 'middle')
      .style('font', '16.5px ' + font)
      .text('Month, first day (years 2015\u20132016)');
    svg.append('text')
      .attr('transform', 'translate(25,' + (tops[0] + tops[1] + panelH) / 2 + ') rotate(-90)')
      .attr('text-anchor', 'middle')
      .style('font', '16.5px ' + font)
      .text('GCC');

    // legends
    svg.append('text').attr('x', 152.5).attr('y', 26).style('font', '16.5px ' + font).text('Sun angle');
    const keyX = [242, 319.5, 397, 475];
    lineNames.forEach(function (name, i) {
      svg.append('rect').attr('x', keyX[i]).attr('y', 6).attr('width', 27.5).attr('height', 28).attr('fill', '#A8A8A8');
      svg.append('line')
        .attr('x1', keyX[i]).attr('x2', keyX[i] + 27.5)
        .attr('y1', 20).attr('y2', 20)
        .attr('stroke', colors[i]).attr('stroke-width', 3);
      svg.append('text').attr('x', keyX[i] + 30.5).attr('y', 25).style('font', '13px ' + font).text(name);
    });

    svg.append('text').attr('x', 588).attr('y', 26).style('font', '16.5px ' + font).text('Sun angle');
    const shapeX = [692, 760, 845];
    classNames.forEach(function (name, i) {
      svg.append('path')
        .attr('d', symbols[i]() as string)
        .attr('transform', 'translate(' + shapeX[i] + ',20) rotate(' + rotation[i] + ')')
        .attr('fill', 'none')
        .attr('stroke', '#000')
        .attr('stroke-width', 1.3);
      svg.append('text').attr('x', shapeX[i] + 16.5).attr('y', 25).style('font', '13px ' + font).text(name);
    });
  }, []);

  return <svg ref={ref} width={1007} height={886} style={{ position: 'absolute', left: 0, top: 0, background: '#fff' }}></svg>;
}
